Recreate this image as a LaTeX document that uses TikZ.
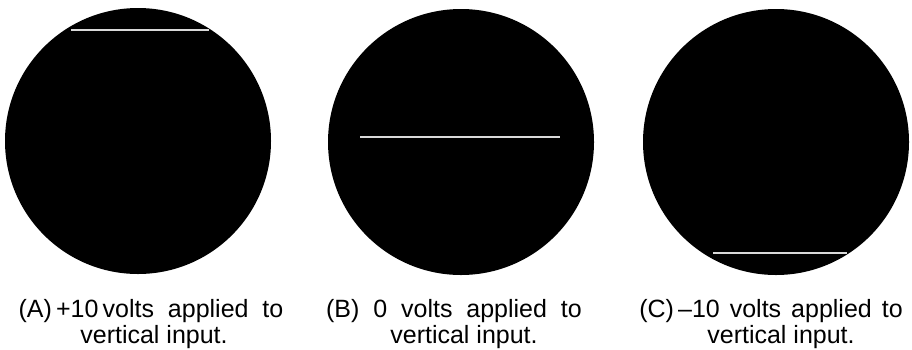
\documentclass[tikz,border=0pt]{standalone}
\usepackage{fontspec}
\setmainfont{Liberation Sans}
\begin{document}
\begin{tikzpicture}[x=1pt,y=-1pt,
  screen/.style={fill=black,draw=none},
  trace/.style={draw=white!85!black,line width=1.1pt},
  captext/.style={anchor=base,inner sep=0pt,font=\fontsize{25}{29}\selectfont}]
\useasboundingbox[fill=white] (0,0) rectangle (912,349);
% screens
\fill[screen] (138,141) circle (133);
\fill[screen] (461,142) circle (133);
\fill[screen] (776,142) circle (133);
% traces
\coordinate (a1) at (71,30);  \coordinate (a2) at (209,30);
\coordinate (b1) at (360,137); \coordinate (b2) at (560,137);
\coordinate (c1) at (713,253); \coordinate (c2) at (847,253);
\draw[trace] (a1) -- (a2);
\draw[trace] (b1) -- (b2);
\draw[trace] (c1) -- (c2);
% captions
\node[captext] (ta1) at (151,317) {(A)\,+10\,volts\ \ applied\ \ to};
\node[captext] (ta2) at (154,343) {vertical input.};
\node[captext] (tb1) at (454,317) {(B)\ \ 0\ \ volts\ \ applied\ \ to};
\node[captext] (tb2) at (464,343) {vertical input.};
\node[captext] (tc1) at (771,317) {(C)\,--10\hspace{0.4em}volts\hspace{0.4em}applied\hspace{0.4em}to};
\node[captext] (tc2) at (781,343) {vertical input.};
\end{tikzpicture}
\end{document}
